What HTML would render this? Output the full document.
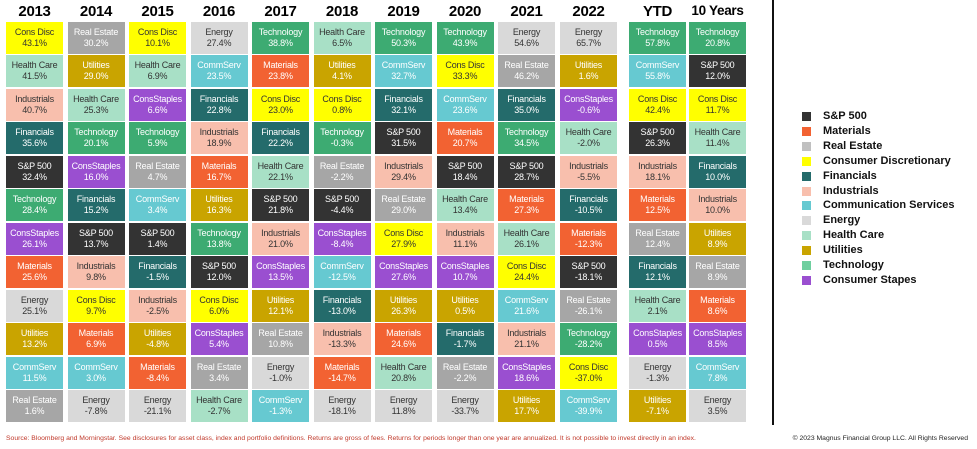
<!DOCTYPE html>
<html><head><meta charset="utf-8"><style>
body{margin:0;width:977px;height:449px;background:#fff;font-family:"Liberation Sans",Arial,sans-serif;position:relative;overflow:hidden}
.c{position:absolute;width:57px;height:32px;text-align:center;font-size:9px;line-height:11px;box-sizing:border-box;padding-top:5px;letter-spacing:-0.2px}
.h{position:absolute;top:3px;width:57px;text-align:center;font-weight:bold;font-size:15px;white-space:nowrap;letter-spacing:-0.3px}
.lg{position:absolute;left:802px;width:9px;height:9px}
.lt{position:absolute;left:823px;font-weight:bold;font-size:11px;color:#111;line-height:12px}
.f{position:absolute;top:435px;font-size:6.8px;color:#c0392b;white-space:nowrap}
</style></head><body>
<div style="position:absolute;left:772px;top:0;width:2px;height:425px;background:#111"></div>
<div class="f" style="left:6px">Source: Bloomberg and Morningstar. See disclosures for asset class, index and portfolio definitions. Returns are gross of fees. Returns for periods longer than one year are annualized. It is not possible to invest directly in an index.</div>
<div class="f" style="right:9px;color:#222">© 2023 Magnus Financial Group LLC. All Rights Reserved</div>
<script>
const C={"S&P 500":["#333333","#fff"],"Materials":["#f26232","#fff"],"Real Estate":["#a6a6a6","#fff"],"Cons Disc":["#ffff00","#333"],"Financials":["#246b6b","#fff"],"Industrials":["#f8bfad","#333"],"CommServ":["#66c9d1","#fff"],"Energy":["#d9d9d9","#333"],"Health Care":["#a8e0c6","#333"],"Utilities":["#c9a400","#fff"],"Technology":["#3dab72","#fff"],"ConsStaples":["#9a4fd0","#fff"]};
const D=[
["2013","Cons Disc 43.1,Health Care 41.5,Industrials 40.7,Financials 35.6,S&P 500 32.4,Technology 28.4,ConsStaples 26.1,Materials 25.6,Energy 25.1,Utilities 13.2,CommServ 11.5,Real Estate 1.6"],
["2014","Real Estate 30.2,Utilities 29.0,Health Care 25.3,Technology 20.1,ConsStaples 16.0,Financials 15.2,S&P 500 13.7,Industrials 9.8,Cons Disc 9.7,Materials 6.9,CommServ 3.0,Energy -7.8"],
["2015","Cons Disc 10.1,Health Care 6.9,ConsStaples 6.6,Technology 5.9,Real Estate 4.7,CommServ 3.4,S&P 500 1.4,Financials -1.5,Industrials -2.5,Utilities -4.8,Materials -8.4,Energy -21.1"],
["2016","Energy 27.4,CommServ 23.5,Financials 22.8,Industrials 18.9,Materials 16.7,Utilities 16.3,Technology 13.8,S&P 500 12.0,Cons Disc 6.0,ConsStaples 5.4,Real Estate 3.4,Health Care -2.7"],
["2017","Technology 38.8,Materials 23.8,Cons Disc 23.0,Financials 22.2,Health Care 22.1,S&P 500 21.8,Industrials 21.0,ConsStaples 13.5,Utilities 12.1,Real Estate 10.8,Energy -1.0,CommServ -1.3"],
["2018","Health Care 6.5,Utilities 4.1,Cons Disc 0.8,Technology -0.3,Real Estate -2.2,S&P 500 -4.4,ConsStaples -8.4,CommServ -12.5,Financials -13.0,Industrials -13.3,Materials -14.7,Energy -18.1"],
["2019","Technology 50.3,CommServ 32.7,Financials 32.1,S&P 500 31.5,Industrials 29.4,Real Estate 29.0,Cons Disc 27.9,ConsStaples 27.6,Utilities 26.3,Materials 24.6,Health Care 20.8,Energy 11.8"],
["2020","Technology 43.9,Cons Disc 33.3,CommServ 23.6,Materials 20.7,S&P 500 18.4,Health Care 13.4,Industrials 11.1,ConsStaples 10.7,Utilities 0.5,Financials -1.7,Real Estate -2.2,Energy -33.7"],
["2021","Energy 54.6,Real Estate 46.2,Financials 35.0,Technology 34.5,S&P 500 28.7,Materials 27.3,Health Care 26.1,Cons Disc 24.4,CommServ 21.6,Industrials 21.1,ConsStaples 18.6,Utilities 17.7"],
["2022","Energy 65.7,Utilities 1.6,ConsStaples -0.6,Health Care -2.0,Industrials -5.5,Financials -10.5,Materials -12.3,S&P 500 -18.1,Real Estate -26.1,Technology -28.2,Cons Disc -37.0,CommServ -39.9"],
["YTD","Technology 57.8,CommServ 55.8,Cons Disc 42.4,S&P 500 26.3,Industrials 18.1,Materials 12.5,Real Estate 12.4,Financials 12.1,Health Care 2.1,ConsStaples 0.5,Energy -1.3,Utilities -7.1"],
["10 Years","Technology 20.8,S&P 500 12.0,Cons Disc 11.7,Health Care 11.4,Financials 10.0,Industrials 10.0,Utilities 8.9,Real Estate 8.9,Materials 8.6,ConsStaples 8.5,CommServ 7.8,Energy 3.5"]];
const X=[6,67.5,129,190.5,252,313.5,375,436.5,498,560,629,689];
let h="";
D.forEach((col,i)=>{
 const hs=col[0].length>4?"font-size:13.5px;":"";
 h+=`<div class="h" style="left:${X[i]}px;${hs}">${col[0]}</div>`;
 col[1].split(",").forEach((s,j)=>{
  const k=s.lastIndexOf(" ");const n=s.slice(0,k),v=s.slice(k+1);
  const [bg,fg]=C[n];
  h+=`<div class="c" style="left:${X[i]}px;top:${22+j*33.45}px;background:${bg};color:${fg}">${n}<br>${v}%</div>`;
 });
});
const L=[["S&P 500","#333333"],["Materials","#f26232"],["Real Estate","#c0c0c0"],["Consumer Discretionary","#ffff00"],["Financials","#246b6b"],["Industrials","#f8bfad"],["Communication Services","#66c9d1"],["Energy","#d9d9d9"],["Health Care","#a8e0c6"],["Utilities","#c9a400"],["Technology","#6fcf9f"],["Consumer Stapes","#9a4fd0"]];
L.forEach((l,i)=>{const y=112+i*14.9;
 h+=`<div class="lg" style="top:${y}px;background:${l[1]}"></div><div class="lt" style="top:${y-2}px">${l[0]}</div>`;});
document.body.insertAdjacentHTML("beforeend",h);
</script>
</body></html>
